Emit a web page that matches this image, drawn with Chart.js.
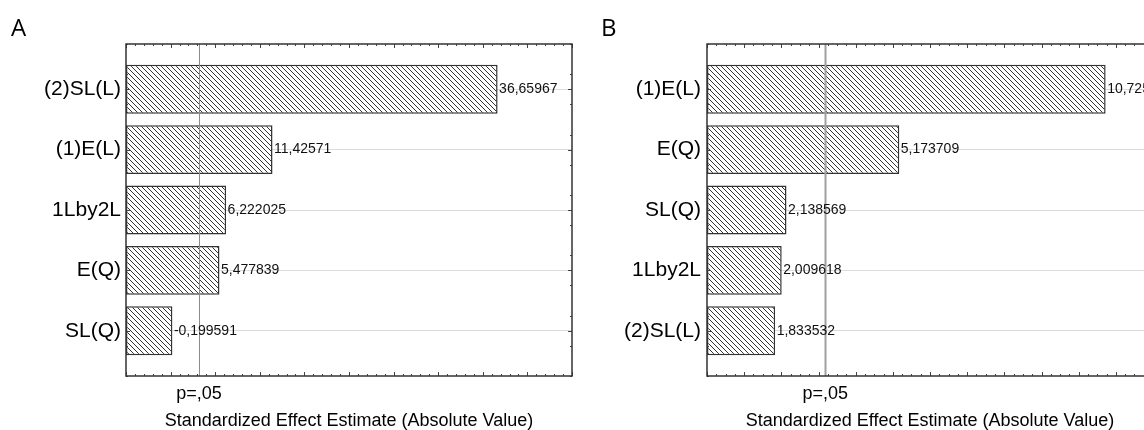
<!DOCTYPE html>
<html><head><meta charset="utf-8">
<script src="https://cdn.jsdelivr.net/npm/chart.js@4.4.1/dist/chart.umd.min.js"></script>
<style>
html,body{margin:0;padding:0;background:#fff;overflow:hidden;width:1144px;height:430px;}
#wrap{position:relative;width:1144px;height:430px;overflow:hidden;background:#fff;}
canvas{position:absolute;top:0;}
.panel{position:absolute;font-family:'Open Sans',sans-serif;font-size:24px;line-height:24px;color:#000;z-index:2;}
</style></head><body>
<div id="wrap">
<div class="panel" style="left:11px;top:15px">A</div>
<div class="panel" style="left:601px;top:15px">B</div>
<canvas id="cA" width="580" height="430" style="left:0"></canvas>
<canvas id="cB" width="600" height="430" style="left:580px"></canvas>
</div>
<script>
// ---- data ----
const categoriesA = ['(2)SL(L)', '(1)E(L)', '1Lby2L', 'E(Q)', 'SL(Q)'];
const effectsA = [36.65967, 11.42571, 6.222025, 5.477839, -0.199591];
const categoriesB = ['(1)E(L)', 'E(Q)', 'SL(Q)', '1Lby2L', '(2)SL(L)'];
const effectsB = [10.72538, 5.173709, 2.138569, 2.009618, 1.833532];
const pCritical = 3.182446;
const pLabel = 'p=,05';
const axisTitle = 'Standardized Effect Estimate (Absolute Value)';
const rangeA = [-5, 45];
const rangeB = [0, 12];

const FONT = "'Liberation Sans', Arial, sans-serif";

function hatchPattern(ctx) {
  const s = 5;
  const c = document.createElement('canvas'); c.width = s; c.height = s;
  const g = c.getContext('2d');
  g.fillStyle = '#fff'; g.fillRect(0, 0, s, s);
  g.strokeStyle = '#333'; g.lineWidth = 1;
  g.beginPath();
  for (const o of [-s, 0, s]) { g.moveTo(o - 1, -1); g.lineTo(o + s + 1, s + 1); }
  g.stroke();
  return ctx.createPattern(c, 'repeat');
}

function framePlugin(o) {
  return {
    id: 'frame',
    afterDatasetsDraw(chart) {
      const {ctx, chartArea: a} = chart;
      const x = chart.scales.x, y = chart.scales.y;
      ctx.save();
      // p = .05 reference line
      const px = Math.round(x.getPixelForValue(pCritical)) + 0.5;
      ctx.strokeStyle = o.pColor; ctx.lineWidth = o.pWidth;
      ctx.beginPath(); ctx.moveTo(px, a.top); ctx.lineTo(px, a.bottom); ctx.stroke();
      // value labels
      const meta = chart.getDatasetMeta(0);
      ctx.font = '14px ' + FONT; ctx.fillStyle = '#111';
      ctx.textAlign = 'left'; ctx.textBaseline = 'middle';
      meta.data.forEach((bar, i) => {
        ctx.fillText(String(o.values[i]).replace('.', ','), bar.x + 1.5, bar.y);
      });
      // inward ticks
      ctx.strokeStyle = '#444'; ctx.lineWidth = 1;
      ctx.beginPath();
      const n = Math.round((x.max - x.min) / o.minorX);
      for (let k = 0; k <= n; k++) {
        const v = x.min + k * o.minorX;
        const r = v / o.majorX;
        const major = Math.abs(r - Math.round(r)) < 1e-6;
        const len = major ? 4 : 2;
        const xx = Math.round(x.getPixelForValue(v)) + 0.5;
        ctx.moveTo(xx, a.top); ctx.lineTo(xx, a.top + len);
        ctx.moveTo(xx, a.bottom); ctx.lineTo(xx, a.bottom - len);
      }
      for (let k = 0; k <= 11; k++) {
        const v = 0.25 + k * 0.5;
        const major = Math.abs(v - Math.round(v)) < 1e-6;
        const len = major ? 4 : 2;
        const yy = Math.round(y.getPixelForValue(v)) + 0.5;
        ctx.moveTo(a.left, yy); ctx.lineTo(a.left + len, yy);
        ctx.moveTo(a.right, yy); ctx.lineTo(a.right - len, yy);
      }
      for (let k = 1; k <= 5; k++) {
        const yy = Math.round(y.getPixelForValue(k)) + 0.5;
        ctx.moveTo(a.left, yy); ctx.lineTo(a.left + 4, yy);
        ctx.moveTo(a.right, yy); ctx.lineTo(a.right - 4, yy);
      }
      ctx.stroke();
      // frame
      ctx.strokeStyle = '#333'; ctx.lineWidth = 1.5;
      ctx.strokeRect(a.left, a.top, a.right - a.left, a.bottom - a.top);
      ctx.restore();
    }
  };
}

function build(id, cats, vals, range, o) {
  const ctx = document.getElementById(id).getContext('2d');
  return new Chart(ctx, {
    type: 'bar',
    data: {
      datasets: [{
        data: vals.map((v, i) => ({x: Math.abs(v), y: i + 1})),
        base: range[0],
        backgroundColor: hatchPattern(ctx),
        borderColor: '#333',
        borderWidth: 1.5,
        borderSkipped: false,
        barPercentage: 0.81,
        categoryPercentage: 1
      }]
    },
    options: {
      indexAxis: 'y',
      responsive: false,
      animation: false,
      devicePixelRatio: 1,
      layout: {padding: {top: 44, left: 0, right: o.padRight, bottom: 0}},
      plugins: {legend: {display: false}, tooltip: {enabled: false}},
      scales: {
        x: {
          type: 'linear', min: range[0], max: range[1],
          grid: {display: false}, border: {display: false},
          afterBuildTicks: s => { s.ticks = [{value: pCritical}]; },
          afterFit: s => { s.height = 54; },
          ticks: {callback: () => pLabel, font: {family: FONT, size: 18}, color: '#000',
                  padding: -1, maxRotation: 0, autoSkip: false},
          title: {display: true, text: axisTitle, font: {family: FONT, size: 18, lineHeight: 1},
                  color: '#000', padding: 0}
        },
        y: {
          type: 'linear', min: 0.25, max: 5.75, reverse: true, offset: false,
          afterBuildTicks: s => { s.ticks = cats.map((c, i) => ({value: i + 1})); },
          afterFit: s => { s.width = o.yWidth; },
          grid: {color: '#dcdcdc', drawTicks: false, offset: false, lineWidth: 1},
          border: {display: false},
          ticks: {callback: v => cats[v - 1], font: {family: FONT, size: 21}, color: '#000',
                  padding: o.yPad, autoSkip: false}
        }
      }
    },
    plugins: [framePlugin(o)]
  });
}

build('cA', categoriesA, effectsA, rangeA,
  {padRight: 8, yWidth: 126, yPad: 5, values: effectsA, majorX: 5, minorX: 1, pColor: '#8c8c8c', pWidth: 1});
build('cB', categoriesB, effectsB, rangeB,
  {padRight: 27, yWidth: 127, yPad: 6, values: effectsB, majorX: 1, minorX: 0.25, pColor: '#a0a0a0', pWidth: 2});
</script>
</body></html>
